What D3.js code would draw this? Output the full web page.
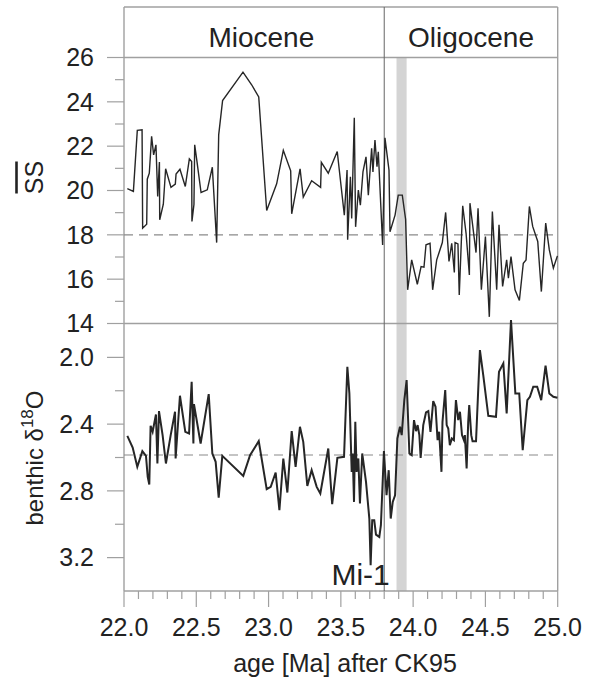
<!DOCTYPE html>
<html>
<head>
<meta charset="utf-8">
<script src="https://cdn.jsdelivr.net/npm/d3@7"></script>
<style>
  html, body { margin: 0; padding: 0; background: #fff; }
  svg { display: block; }
  text { font-family: "Liberation Sans", Arial, Helvetica, sans-serif; fill: #222; }
</style>
</head>
<body>
<svg id="chart" width="590" height="679"></svg>
<script>
// ---------------- data ----------------
const ssAge = [22.023,22.065,22.092,22.125,22.129,22.157,22.161,22.175,22.191,22.205,22.221,22.233,22.245,22.247,22.272,22.288,22.325,22.355,22.360,22.387,22.424,22.452,22.468,22.470,22.484,22.489,22.503,22.533,22.576,22.611,22.641,22.655,22.682,22.823,22.883,22.932,22.987,23.056,23.102,23.153,23.160,23.218,23.240,23.298,23.360,23.365,23.413,23.475,23.524,23.543,23.547,23.566,23.575,23.593,23.602,23.621,23.635,23.653,23.674,23.690,23.713,23.722,23.736,23.750,23.759,23.789,23.805,23.833,23.840,23.875,23.897,23.925,23.948,23.962,23.990,24.029,24.055,24.075,24.089,24.117,24.135,24.163,24.202,24.225,24.248,24.267,24.285,24.290,24.310,24.319,24.343,24.366,24.389,24.393,24.435,24.449,24.472,24.500,24.527,24.548,24.578,24.594,24.619,24.647,24.659,24.677,24.705,24.735,24.762,24.781,24.804,24.827,24.862,24.887,24.917,24.942,24.970,24.998];
const ssValue = [20.08,19.96,22.71,22.74,18.30,18.48,20.51,20.78,22.44,21.61,22.06,19.73,21.28,18.68,19.38,20.98,20.14,20.29,20.74,20.96,20.18,21.43,21.31,18.60,19.38,22.06,21.39,19.91,20.03,21.05,17.65,22.51,24.06,25.34,24.77,24.22,19.10,20.30,21.81,20.89,18.95,20.98,19.70,20.44,20.14,21.27,20.78,21.76,18.89,20.92,17.78,20.62,18.74,23.28,18.36,20.02,19.34,20.84,21.52,19.79,21.90,20.84,22.28,21.07,21.75,17.54,22.38,20.92,18.14,18.89,19.79,19.79,18.70,15.52,16.87,15.77,16.57,16.54,17.55,17.62,15.52,16.87,17.65,19.01,16.80,17.62,16.30,17.65,17.59,15.29,19.31,18.08,16.19,19.43,17.20,19.20,15.52,17.92,14.30,19.05,15.52,18.45,15.67,16.87,16.04,17.02,15.52,15.04,16.72,16.87,19.28,18.38,17.70,15.44,18.53,17.32,16.50,17.05];

const d18Age = [22.023,22.060,22.092,22.127,22.152,22.164,22.175,22.184,22.198,22.221,22.231,22.242,22.267,22.290,22.323,22.353,22.357,22.387,22.424,22.450,22.468,22.480,22.484,22.530,22.586,22.611,22.634,22.655,22.680,22.825,22.872,22.932,22.987,23.015,23.049,23.075,23.102,23.130,23.160,23.187,23.217,23.240,23.268,23.298,23.333,23.358,23.413,23.440,23.476,23.522,23.545,23.559,23.575,23.582,23.591,23.600,23.609,23.621,23.632,23.648,23.674,23.697,23.706,23.717,23.731,23.743,23.766,23.777,23.798,23.816,23.831,23.845,23.859,23.875,23.891,23.909,23.921,23.939,23.955,23.974,23.990,24.006,24.020,24.031,24.043,24.052,24.070,24.089,24.105,24.120,24.139,24.155,24.169,24.180,24.196,24.203,24.222,24.232,24.243,24.254,24.268,24.282,24.296,24.312,24.324,24.338,24.351,24.358,24.370,24.381,24.388,24.402,24.411,24.435,24.462,24.485,24.520,24.573,24.594,24.624,24.647,24.677,24.707,24.734,24.758,24.790,24.808,24.831,24.858,24.886,24.916,24.942,24.970,24.998];
const d18Value = [2.47,2.54,2.656,2.562,2.59,2.716,2.762,2.41,2.446,2.342,2.636,2.322,2.466,2.636,2.466,2.326,2.606,2.23,2.446,2.456,2.146,2.516,2.28,2.516,2.22,2.576,2.626,2.84,2.59,2.71,2.586,2.502,2.79,2.776,2.69,2.916,2.606,2.81,2.442,2.656,2.416,2.506,2.77,2.676,2.776,2.816,2.546,2.88,2.602,2.596,2.056,2.216,2.686,2.576,2.866,2.386,2.686,2.606,2.876,2.576,2.746,2.966,3.246,2.976,2.976,3.062,3.076,3.006,2.562,2.826,2.676,2.966,2.866,2.826,2.486,2.416,2.466,2.256,2.136,2.576,2.586,2.376,2.442,2.406,2.466,2.602,2.406,2.33,2.322,2.446,2.262,2.296,2.496,2.446,2.686,2.386,2.196,2.406,2.426,2.526,2.486,2.496,2.256,2.376,2.326,2.466,2.496,2.466,2.666,2.386,2.286,2.466,2.502,2.502,1.956,2.106,2.35,2.356,2.086,2.036,2.336,1.776,2.216,2.216,2.556,2.256,2.236,2.176,2.176,2.256,2.05,2.216,2.236,2.242];

const xMajorTicks = [22.0,22.5,23.0,23.5,24.0,24.5,25.0];
const xMinorTicks = [22.1,22.2,22.3,22.4,22.6,22.7,22.8,22.9,23.1,23.2,23.3,23.4,23.6,23.7,23.8,23.9,24.1,24.2,24.3,24.4,24.6,24.7,24.8,24.9];
const ssMajorTicks = [14,16,18,20,22,24,26];
const ssMinorTicks = [15,17,19,21,23,25];
const d18MajorTicks = [2.0,2.4,2.8,3.2];
const d18MinorTicks = [2.2,2.6,3.0];

const epochs = [{name:"Miocene", at:22.95}, {name:"Oligocene", at:24.4}];
const boundaryAge = 23.8;
const bandRange = [23.885, 23.955];
const ssMean = 18;
const d18Mean = 2.585;
const eventLabel = {name:"Mi-1", age:23.435, value:3.366};

// ---------------- layout ----------------
const svg = d3.select("#chart");
const left = 124, right = 557.7, frameTop = 7, bottom = 591;
const frameColor = "#a0a0a0";

const x = d3.scaleLinear().domain([22, 25]).range([left, right]);
const ySS = d3.scaleLinear().domain([14, 26]).range([323.5, 57.5]);
const yD = d3.scaleLinear().domain([1.8, 3.4]).range([324, bottom]);

// gray band
svg.append("rect")
  .attr("x", x(bandRange[0])).attr("width", x(bandRange[1]) - x(bandRange[0]))
  .attr("y", ySS(26)).attr("height", bottom - ySS(26))
  .attr("fill", "#d4d4d4");

// frame lines
const g = svg.append("g").attr("stroke", frameColor).attr("stroke-width", 1.4).attr("fill", "none");
g.append("line").attr("x1", left).attr("x2", right).attr("y1", frameTop).attr("y2", frameTop);
g.append("line").attr("x1", left).attr("x2", right).attr("y1", ySS(26)).attr("y2", ySS(26));
g.append("line").attr("x1", left).attr("x2", right).attr("y1", ySS(14)).attr("y2", ySS(14));
g.append("line").attr("x1", left).attr("x2", right).attr("y1", bottom).attr("y2", bottom);
g.append("line").attr("x1", left).attr("x2", left).attr("y1", frameTop).attr("y2", bottom);
g.append("line").attr("x1", right).attr("x2", right).attr("y1", frameTop).attr("y2", bottom);

// epoch boundary
svg.append("line").attr("x1", x(boundaryAge)).attr("x2", x(boundaryAge))
  .attr("y1", frameTop).attr("y2", bottom).attr("stroke", "#666").attr("stroke-width", 1);

// dashed mean lines
svg.append("line").attr("x1", left).attr("x2", right).attr("y1", ySS(ssMean)).attr("y2", ySS(ssMean))
  .attr("stroke", "#8a8a8a").attr("stroke-width", 1.2).attr("stroke-dasharray", "9,6");
svg.append("line").attr("x1", left).attr("x2", right).attr("y1", yD(d18Mean)).attr("y2", yD(d18Mean))
  .attr("stroke", "#8a8a8a").attr("stroke-width", 1.2).attr("stroke-dasharray", "9,6");

// y ticks
function yTicks(scale, major, minor, fmt) {
  const t = svg.append("g");
  major.forEach(v => {
    t.append("line").attr("x1", left - 17).attr("x2", left).attr("y1", scale(v)).attr("y2", scale(v))
      .attr("stroke", frameColor).attr("stroke-width", 1.2);
    t.append("text").attr("x", 94).attr("y", scale(v)).attr("dy", "0.35em")
      .attr("text-anchor", "end").attr("font-size", 25).text(fmt(v));
  });
  minor.forEach(v => {
    t.append("line").attr("x1", left - 9).attr("x2", left).attr("y1", scale(v)).attr("y2", scale(v))
      .attr("stroke", frameColor).attr("stroke-width", 1.2);
  });
}
yTicks(ySS, ssMajorTicks, ssMinorTicks, d3.format("d"));
yTicks(yD, d18MajorTicks, d18MinorTicks, d3.format(".1f"));

// x ticks
const xt = svg.append("g");
xMajorTicks.forEach(v => {
  xt.append("line").attr("x1", x(v)).attr("x2", x(v)).attr("y1", bottom).attr("y2", bottom + 16)
    .attr("stroke", frameColor).attr("stroke-width", 1.2);
  xt.append("text").attr("x", x(v)).attr("y", 635.5).attr("text-anchor", "middle")
    .attr("font-size", 25).text(d3.format(".1f")(v));
});
xMinorTicks.forEach(v => {
  xt.append("line").attr("x1", x(v)).attr("x2", x(v)).attr("y1", bottom).attr("y2", bottom + 8)
    .attr("stroke", frameColor).attr("stroke-width", 1.2);
});

// series lines
const ssData = ssAge.map((a, i) => [a, ssValue[i]]);
const dData = d18Age.map((a, i) => [a, d18Value[i]]);
svg.append("path").datum(ssData)
  .attr("d", d3.line().x(d => x(d[0])).y(d => ySS(d[1])))
  .attr("fill", "none").attr("stroke", "#262626").attr("stroke-width", 1.4).attr("stroke-linejoin", "miter");
svg.append("path").datum(dData)
  .attr("d", d3.line().x(d => x(d[0])).y(d => yD(d[1])))
  .attr("fill", "none").attr("stroke", "#262626").attr("stroke-width", 2).attr("stroke-linejoin", "miter");

// epoch labels
epochs.forEach(e => {
  svg.append("text").attr("x", x(e.at)).attr("y", 46.5).attr("text-anchor", "middle")
    .attr("font-size", 28).text(e.name);
});

// event label
svg.append("text").attr("x", x(eventLabel.age)).attr("y", yD(eventLabel.value))
  .attr("font-size", 30).text(eventLabel.name);

// axis title
svg.append("text").attr("x", 345).attr("y", 672).attr("text-anchor", "middle")
  .attr("font-size", 25).text("age [Ma] after CK95");

// y label top: SS with overline
const ssLab = svg.append("g").attr("transform", "translate(43," + 177.5 + ") rotate(-90)");
ssLab.append("text").attr("x", 0).attr("y", 0).attr("text-anchor", "middle").attr("font-size", 25).text("SS");
ssLab.append("line").attr("x1", -16).attr("x2", 16).attr("y1", -26.5).attr("y2", -26.5)
  .attr("stroke", "#222").attr("stroke-width", 2.6);

// y label bottom: benthic δ18O
const dLab = svg.append("g").attr("transform", "translate(43," + 458 + ") rotate(-90)");
const dt = dLab.append("text").attr("x", 0).attr("y", 0).attr("text-anchor", "middle").attr("font-size", 24);
dt.append("tspan").text("benthic δ");
dt.append("tspan").attr("font-size", 17).attr("dy", -10).text("18");
dt.append("tspan").attr("dy", 10).text("O");
</script>
</body>
</html>
